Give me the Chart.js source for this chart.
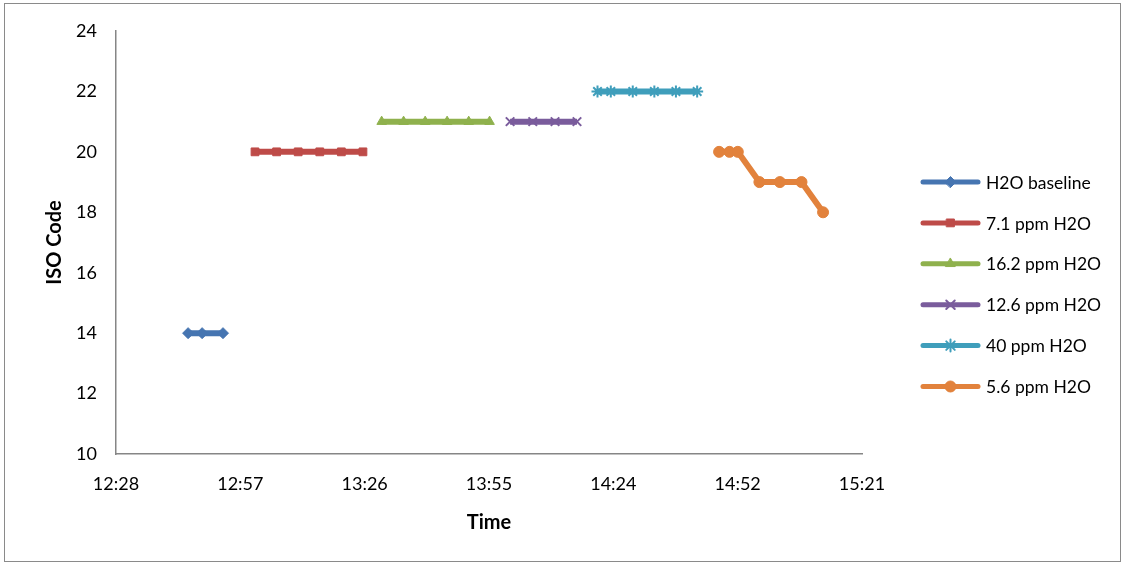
<!DOCTYPE html>
<html>
<head>
<meta charset="utf-8">
<script src="https://cdn.jsdelivr.net/npm/chart.js@4/dist/chart.umd.min.js"></script>
<style>
  html, body { margin: 0; padding: 0; background: #fff; }
  #wrap { width: 1125px; height: 565px; }
</style>
</head>
<body>
<div id="wrap"><canvas id="chart" width="1125" height="565"></canvas></div>
<script>
// --- data (times, hh:mm:ss) ---
const seriesNames = ["H2O baseline", "7.1 ppm H2O", "16.2 ppm H2O", "12.6 ppm H2O", "40 ppm H2O", "5.6 ppm H2O"];

const baselineTimes = ["12:45:30", "12:48:45", "12:53:35"];
const baselineIso = [14, 14, 14];

const ppm71Times = ["13:01:00", "13:06:00", "13:11:00", "13:16:00", "13:21:00", "13:26:00"];
const ppm71Iso = [20, 20, 20, 20, 20, 20];

const ppm162Times = ["13:30:20", "13:35:25", "13:40:25", "13:45:30", "13:50:30", "13:55:20"];
const ppm162Iso = [21, 21, 21, 21, 21, 21];

const ppm126Times = ["14:00:05", "14:05:20", "14:10:30", "14:15:35"];
const ppm126Iso = [21, 21, 21, 21];

const ppm40Times = ["14:20:20", "14:23:25", "14:28:30", "14:33:30", "14:38:30", "14:43:25"];
const ppm40Iso = [22, 22, 22, 22, 22, 22];

const ppm56Times = ["14:48:30", "14:50:55", "14:52:50", "14:57:50", "15:02:35", "15:07:35", "15:12:35"];
const ppm56Iso = [20, 20, 20, 19, 19, 19, 18];

const yTicks = [10, 12, 14, 16, 18, 20, 22, 24];
const xTickStart = 0.52, xTickEnd = 0.64, xTickStep = 0.02; // excel day fractions

const colors = ["#4675B1", "#BE4B48", "#8FB14D", "#7A5C9C", "#3F9EBB", "#E2823C"];
const markers = ["rectRot", "rect", "triangle", "crossRot", "star", "circle"];

// "hh:mm:ss" -> fraction of a day
function toDay(t) {
  const p = t.split(":").map(Number);
  return (p[0] * 3600 + p[1] * 60 + (p[2] || 0)) / 86400;
}
function fmtTime(v) {
  const m = Math.floor(v * 1440 + 1e-6);
  return Math.floor(m / 60) + ":" + String(m % 60).padStart(2, "0");
}

const allTimes = [baselineTimes, ppm71Times, ppm162Times, ppm126Times, ppm40Times, ppm56Times];
const allIso = [baselineIso, ppm71Iso, ppm162Iso, ppm126Iso, ppm40Iso, ppm56Iso];

const datasets = seriesNames.map((name, i) => {
  const thin = markers[i] === "star" || markers[i] === "crossRot";
  return {
    label: name,
    data: allTimes[i].map((t, k) => ({ x: toDay(t), y: allIso[i][k] })),
    borderColor: colors[i],
    backgroundColor: colors[i],
    borderWidth: 6,
    pointStyle: markers[i],
    pointRadius: thin ? 6 : 5.5,
    pointBorderWidth: thin ? 2 : 1,
    pointBorderColor: colors[i],
    pointBackgroundColor: colors[i],
    tension: 0,
    fill: false
  };
});

const FONT = "Lato, 'Liberation Sans', sans-serif";

// frame, axis titles and the excel-style legend
const decor = {
  id: "decor",
  beforeDraw(chart) {
    const c = chart.ctx;
    c.save();
    c.fillStyle = "#fff";
    c.fillRect(0, 0, chart.width, chart.height);
    c.strokeStyle = "#8a8a8a";
    c.lineWidth = 1;
    c.strokeRect(4.5, 3.5, 1116, 558);
    c.restore();
  },
  afterDraw(chart) {
    const c = chart.ctx;
    const area = chart.chartArea;
    c.save();
    c.fillStyle = "#000";
    c.font = "bold 20px " + FONT;
    c.textAlign = "center";
    c.textBaseline = "middle";
    c.fillText("Time", (area.left + area.right) / 2, 523);
    c.translate(55, (area.top + area.bottom) / 2);
    c.rotate(-Math.PI / 2);
    c.fillText("ISO Code", 0, 0);
    c.restore();

    c.save();
    chart.data.datasets.forEach((ds, i) => {
      const y = 182 + i * 40.9;
      c.strokeStyle = ds.borderColor;
      c.lineWidth = 5;
      c.lineCap = "round";
      c.beginPath();
      c.moveTo(923, y);
      c.lineTo(978, y);
      c.stroke();
      c.fillStyle = ds.backgroundColor;
      c.strokeStyle = ds.borderColor;
      c.lineWidth = ds.pointBorderWidth;
      Chart.helpers.drawPoint(c, { pointStyle: ds.pointStyle, radius: ds.pointRadius, rotation: 0, borderWidth: ds.pointBorderWidth }, 950.5, y);
      c.fillStyle = "#000";
      c.font = "17.5px " + FONT;
      c.textAlign = "left";
      c.textBaseline = "middle";
      c.fillText(ds.label, 986, y + 1);
    });
    c.restore();
  }
};

new Chart(document.getElementById("chart"), {
  type: "line",
  data: { datasets: datasets },
  options: {
    responsive: false,
    animation: false,
    layout: { padding: { left: 0, top: 31, right: 263, bottom: 0 } },
    plugins: { legend: { display: false }, tooltip: { enabled: false } },
    scales: {
      x: {
        type: "linear",
        min: xTickStart,
        max: xTickEnd,
        grid: { display: false, drawTicks: false },
        border: { display: true, color: "#868686", width: 1.5 },
        ticks: {
          stepSize: xTickStep,
          padding: 19,
          color: "#000",
          font: { family: FONT, size: 18 },
          maxRotation: 0,
          callback: (v) => fmtTime(v)
        },
        afterFit(scale) { scale.height = 111; }
      },
      y: {
        min: yTicks[0],
        max: yTicks[yTicks.length - 1],
        grid: { display: false, drawTicks: false },
        border: { display: true, color: "#868686", width: 1.5 },
        afterBuildTicks(scale) { scale.ticks = yTicks.map((v) => ({ value: v })); },
        ticks: {
          padding: 19,
          color: "#000",
          font: { family: FONT, size: 18 }
        },
        afterFit(scale) { scale.width = 116; }
      }
    }
  },
  plugins: [decor]
});
</script>
</body>
</html>
